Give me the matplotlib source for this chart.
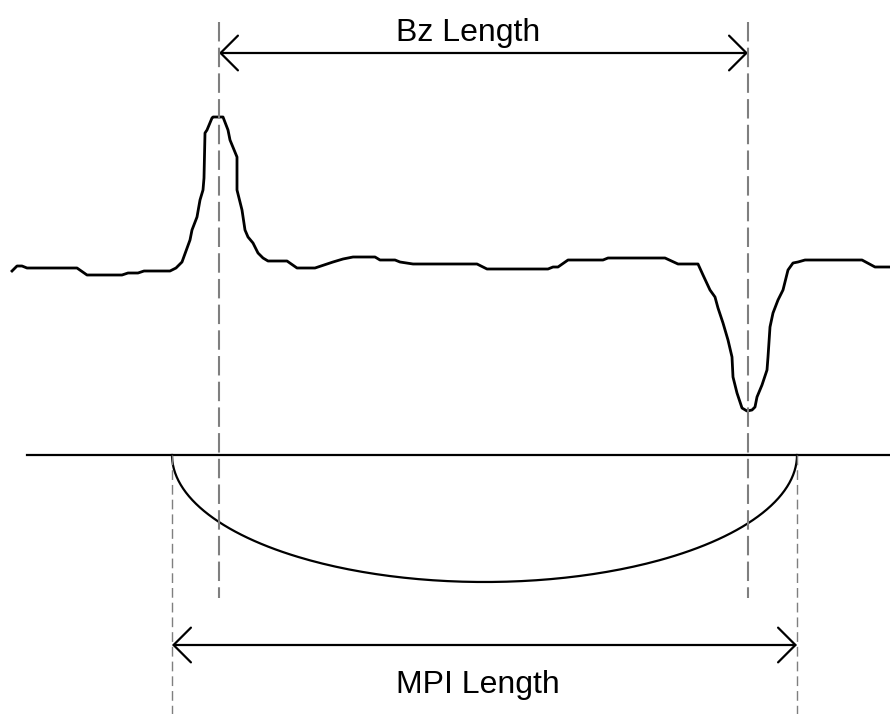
import numpy as np
import matplotlib.pyplot as plt
from matplotlib.patches import FancyArrowPatch

plt.rcParams['font.family'] = ['Liberation Sans', 'DejaVu Sans']
plt.rcParams['lines.scale_dashes'] = False

# Bz signal trace (pixel coords, y downwards)
trace_x = [12, 17, 22, 27, 77, 87, 122, 128, 138, 144, 170, 176, 182, 190, 192,
           197, 200, 203, 204, 205, 207, 212, 213, 223, 228, 230, 237, 237, 242, 245,
           248, 253, 258, 263, 268, 287, 297, 315, 333, 343, 353, 375, 380, 395, 400,
           413, 477, 487, 548, 553, 558, 568, 603, 608, 665, 678, 698, 703, 710, 715,
           718, 723, 728, 732, 733, 737, 742, 747, 752, 755, 757, 762, 767, 768, 770,
           773, 778, 783, 788, 793, 798, 805, 862, 875, 890]
trace_y = [271, 266, 266, 268, 268, 275, 275, 273, 273, 271, 271, 268, 262, 240, 230,
           217, 200, 190, 178, 133, 130, 118, 117, 117, 130, 140, 157, 190, 210, 230,
           237, 243, 253, 258, 261, 261, 268, 268, 262, 259, 257, 257, 260, 260, 262,
           264, 264, 269, 269, 267, 267, 260, 260, 258, 258, 264, 264, 275, 290, 297,
           308, 323, 340, 357, 377, 393, 408, 411, 410, 407, 397, 385, 370, 357, 327,
           313, 300, 290, 270, 263, 262, 260, 260, 267, 267]

# surface line and defect profile
surface_y = 455
surface_x = [27, 890]
mpi_left, mpi_right = 172, 797
defect_depth = 127

# Bz peaks
bz_left, bz_right = 219, 748

fig = plt.figure(figsize=(8.9, 7.14), dpi=100)
ax = fig.add_axes([0, 0, 1, 1])
ax.set_xlim(0, 890)
ax.set_ylim(714, 0)
ax.axis('off')

ax.plot(trace_x, trace_y, color='black', lw=2.0, solid_joinstyle='round')

ax.plot(surface_x, [surface_y, surface_y], color='black', lw=1.6)

# half ellipse under the surface
t = np.linspace(0, np.pi, 200)
cx = (mpi_left + mpi_right) / 2
a = (mpi_right - mpi_left) / 2
ax.plot(cx + a * np.cos(t), surface_y + defect_depth * np.sin(t), color='black', lw=1.6)

# dashed guides
for x in [bz_left, bz_right]:
    ax.plot([x, x], [22, 598], color='#7f7f7f', lw=1.5, linestyle=(0, (14, 4.5)))
for x in [mpi_left, mpi_right]:
    ax.plot([x, x], [surface_y, 714], color='#7f7f7f', lw=1.0, linestyle=(0, (7, 3.6)))

# dimension arrows
def dim_arrow(x0, x1, y):
    arr = FancyArrowPatch((x0, y), (x1, y), arrowstyle='<->,head_length=12.5,head_width=12.5',
                          mutation_scale=1, color='black', lw=1.6, shrinkA=0, shrinkB=0)
    ax.add_patch(arr)

dim_arrow(bz_left, bz_right, 53)
dim_arrow(mpi_left, mpi_right, 645)

ax.text(468, 41, 'Bz Length', ha='center', va='baseline', fontsize=23)
ax.text(478, 693, 'MPI Length', ha='center', va='baseline', fontsize=23)

fig.savefig('out.png', dpi=100)
